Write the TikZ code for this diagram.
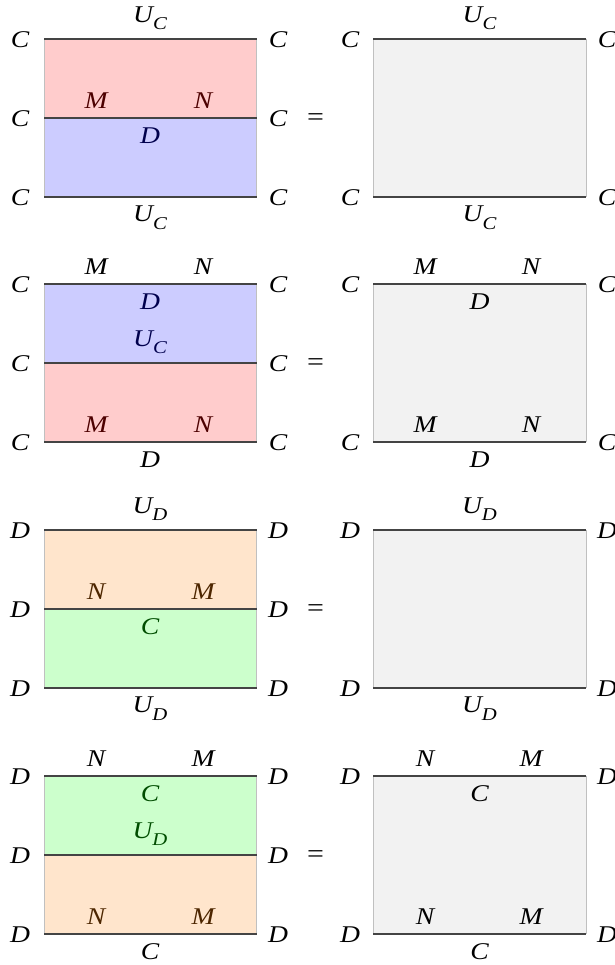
\documentclass[tikz,border=0pt]{standalone}
\usepackage{fontspec}
\setmainfont{Liberation Serif}[FakeStretch=1.15]
\newcommand\lbsub[1]{\raisebox{-0.3em}{\fontsize{18}{18}\selectfont #1}}
\definecolor{redf}{HTML}{FFCCCC}
\definecolor{bluef}{HTML}{CCCCFF}
\definecolor{greenf}{HTML}{CCFFCC}
\definecolor{orangef}{HTML}{FFE5CC}
\definecolor{grayf}{HTML}{F2F2F2}
\definecolor{redt}{HTML}{4D0000}
\definecolor{bluet}{HTML}{00004D}
\definecolor{greent}{HTML}{004D00}
\definecolor{oranget}{HTML}{4D2600}
\definecolor{linegray}{HTML}{444444}
\definecolor{sidegray}{HTML}{C0C0C0}
\tikzset{
  lab/.style={inner sep=0pt, font=\fontsize{24}{24}\selectfont\itshape},
  up/.style={lab, anchor=south},
  dn/.style={lab, anchor=north},
  side/.style={lab, anchor=center},
  hline/.style={draw=linegray, line width=1.3pt},
  vline/.style={draw=sidegray, line width=0.8pt},
}
\begin{document}
\begin{tikzpicture}[x=1pt,y=-1pt]
\useasboundingbox (0,0) rectangle (614,965);
% coordinates and grey right-hand boxes
\foreach \r/\T in {1/39,2/284,3/530,4/776}{
  \coordinate (L\r-tl) at (44,\T);
  \coordinate (L\r-ml) at (44,\T+79);
  \coordinate (L\r-bl) at (44,\T+158);
  \coordinate (L\r-tr) at (256.5,\T);
  \coordinate (L\r-mr) at (256.5,\T+79);
  \coordinate (L\r-br) at (256.5,\T+158);
  \coordinate (R\r-tl) at (373,\T);
  \coordinate (R\r-bl) at (373,\T+158);
  \coordinate (R\r-tr) at (586,\T);
  \coordinate (R\r-br) at (586,\T+158);
  \fill[grayf] (R\r-tl) rectangle (R\r-br);
}
% coloured halves
\fill[redf] (L1-tl) rectangle (L1-mr);
\fill[bluef] (L1-ml) rectangle (L1-br);
\fill[bluef] (L2-tl) rectangle (L2-mr);
\fill[redf] (L2-ml) rectangle (L2-br);
\fill[orangef] (L3-tl) rectangle (L3-mr);
\fill[greenf] (L3-ml) rectangle (L3-br);
\fill[greenf] (L4-tl) rectangle (L4-mr);
\fill[orangef] (L4-ml) rectangle (L4-br);
% edges, side labels and equals signs
\foreach \r/\T/\S in {1/39/C,2/284/C,3/530/D,4/776/D}{
  \draw[vline] (L\r-tl) -- (L\r-bl);
  \draw[vline] (L\r-tr) -- (L\r-br);
  \draw[vline] (R\r-tl) -- (R\r-bl);
  \draw[vline] (R\r-tr) -- (R\r-br);
  \draw[hline] (L\r-tl) -- (L\r-tr);
  \draw[hline] (L\r-ml) -- (L\r-mr);
  \draw[hline] (L\r-bl) -- (L\r-br);
  \draw[hline] (R\r-tl) -- (R\r-tr);
  \draw[hline] (R\r-bl) -- (R\r-br);
  \node[side] (s\r a) at (20,\T+1) {\S};
  \node[side] (s\r b) at (20,\T+80) {\S};
  \node[side] (s\r c) at (20,\T+159) {\S};
  \node[side] (s\r d) at (278,\T+1) {\S};
  \node[side] (s\r e) at (278,\T+80) {\S};
  \node[side] (s\r f) at (278,\T+159) {\S};
  \node[side] (s\r g) at (350,\T+1) {\S};
  \node[side] (s\r h) at (350,\T+159) {\S};
  \node[side] (s\r i) at (607,\T+1) {\S};
  \node[side] (s\r j) at (607,\T+159) {\S};
  \node[side, font=\fontsize{26}{26}\selectfont\upshape] (eq\r) at (315.5,\T+80.5) {=};
}
% ---- row 1
\node[up] (a1) at (150,39-9) {U\lbsub{C}};
\node[up, text=redt] (a2) at (96,118-9) {M};
\node[up, text=redt] (a3) at (203,118-9) {N};
\node[dn, text=bluet] (a4) at (150,118+10) {D};
\node[dn] (a5) at (150,197+9) {U\lbsub{C}};
\node[up] (a6) at (479.5,39-9) {U\lbsub{C}};
\node[dn] (a7) at (479.5,197+9) {U\lbsub{C}};
% ---- row 2
\node[up] (b1) at (96,284-9) {M};
\node[up] (b2) at (203,284-9) {N};
\node[dn, text=bluet] (b3) at (150,284+10) {D};
\node[up, text=bluet] (b4) at (150,363-9) {U\lbsub{C}};
\node[up, text=redt] (b5) at (96,442-9) {M};
\node[up, text=redt] (b6) at (203,442-9) {N};
\node[dn] (b7) at (150,442+10) {D};
\node[up] (b8) at (425,284-9) {M};
\node[up] (b9) at (531,284-9) {N};
\node[dn] (b10) at (479.5,284+10) {D};
\node[up] (b11) at (425,442-9) {M};
\node[up] (b12) at (531,442-9) {N};
\node[dn] (b13) at (479.5,442+10) {D};
% ---- row 3
\node[up] (c1) at (150,530-9) {U\lbsub{D}};
\node[up, text=oranget] (c2) at (96,609-9) {N};
\node[up, text=oranget] (c3) at (203,609-9) {M};
\node[dn, text=greent] (c4) at (150,609+9.5) {C};
\node[dn] (c5) at (150,688+9) {U\lbsub{D}};
\node[up] (c6) at (479.5,530-9) {U\lbsub{D}};
\node[dn] (c7) at (479.5,688+9) {U\lbsub{D}};
% ---- row 4
\node[up] (d1) at (96,776-9) {N};
\node[up] (d2) at (203,776-9) {M};
\node[dn, text=greent] (d3) at (150,776+9.5) {C};
\node[up, text=greent] (d4) at (150,855-9) {U\lbsub{D}};
\node[up, text=oranget] (d5) at (96,934-9) {N};
\node[up, text=oranget] (d6) at (203,934-9) {M};
\node[dn] (d7) at (150,934+9.5) {C};
\node[up] (d8) at (425,776-9) {N};
\node[up] (d9) at (531,776-9) {M};
\node[dn] (d10) at (479.5,776+9.5) {C};
\node[up] (d11) at (425,934-9) {N};
\node[up] (d12) at (531,934-9) {M};
\node[dn] (d13) at (479.5,934+9.5) {C};
\end{tikzpicture}
\end{document}
